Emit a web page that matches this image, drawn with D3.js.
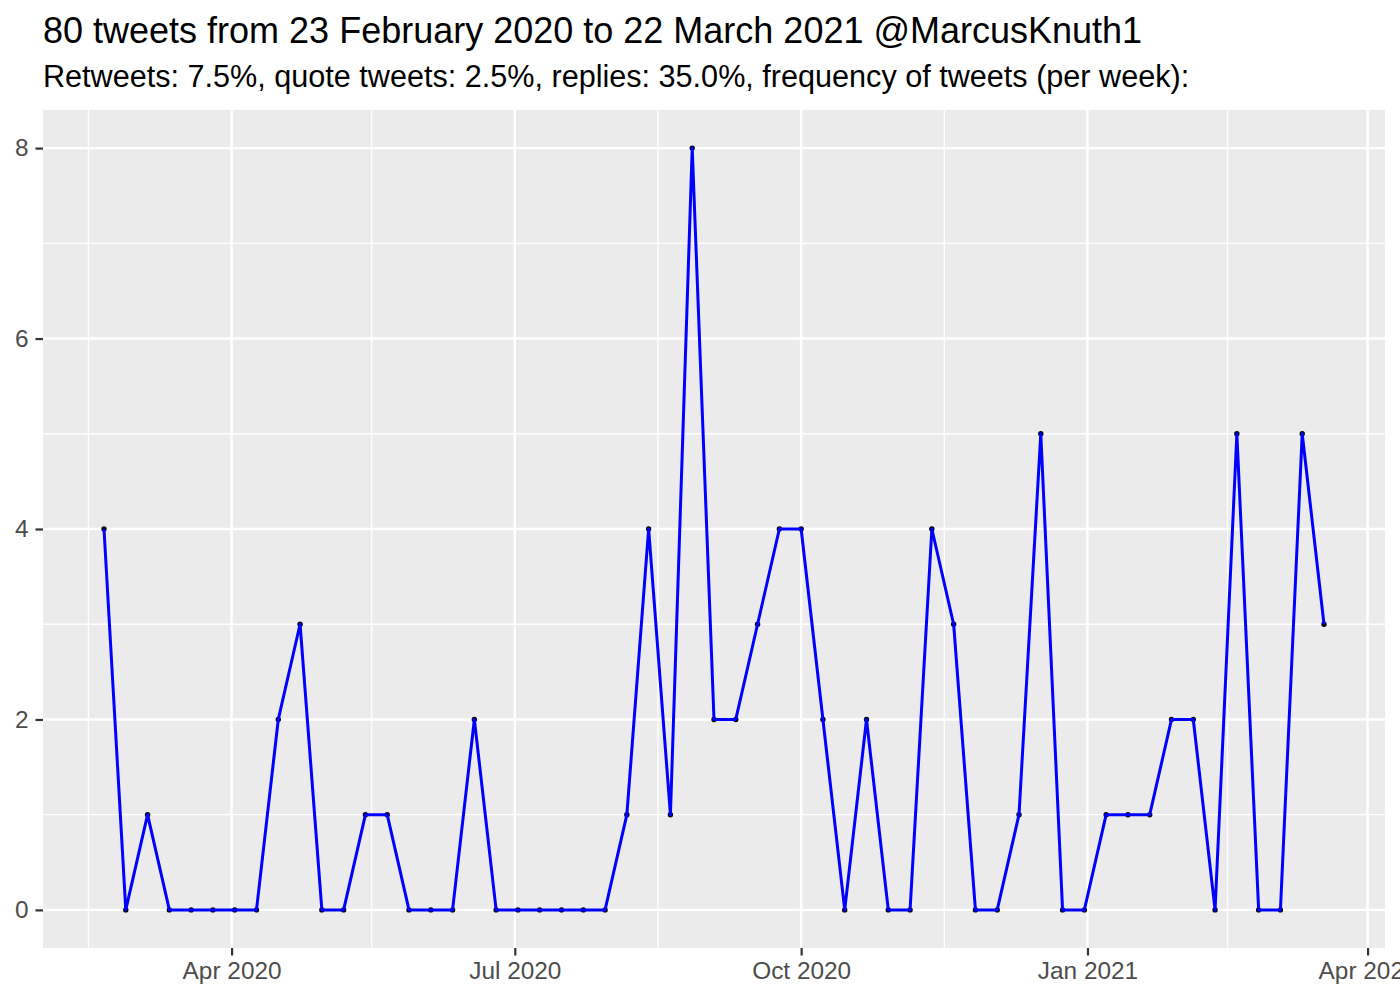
<!DOCTYPE html>
<html>
<head>
<meta charset="utf-8">
<script src="https://cdn.jsdelivr.net/npm/d3@7"></script>
<style>
  body { margin: 0; background: #fff; }
  text { font-family: "Liberation Sans", Arial, sans-serif; }
</style>
</head>
<body>
<svg id="chart"></svg>
<script>
const width = 1400
const height = 1000

// weekly counts, weeks starting Thursday 20 Feb 2020
const firstWeek = "2020-02-20"
const tweetsPerWeek = [4, 0, 1, 0, 0, 0, 0, 0, 2, 3, 0, 0, 1, 1, 0, 0, 0, 2, 0, 0,
                       0, 0, 0, 0, 1, 4, 1, 8, 2, 2, 3, 4, 4, 2, 0, 2, 0, 0, 4, 3,
                       0, 0, 1, 5, 0, 0, 1, 1, 1, 2, 2, 0, 5, 0, 0, 5, 3]
const yTicks = [0, 2, 4, 6, 8]
const yMinor = [1, 3, 5, 7]
const xTicks = ["2020-04-01", "2020-07-01", "2020-10-01", "2021-01-01", "2021-04-01"]
const xTickLabels = ["Apr 2020", "Jul 2020", "Oct 2020", "Jan 2021", "Apr 2021"]
const xMinor = ["2020-02-15", "2020-05-16", "2020-08-16", "2020-11-16", "2021-02-15"]

const titleText = "80 tweets from 23 February 2020 to 22 March 2021 @MarcusKnuth1"
const subtitleText = "Retweets: 7.5%, quote tweets: 2.5%, replies: 35.0%, frequency of tweets (per week):"

const parse = d3.utcParse("%Y-%m-%d")
const start = parse(firstWeek)
const data = tweetsPerWeek.map((v, i) => ({ date: d3.utcDay.offset(start, i * 7), n: v }))

const margin = { top: 110, right: 15, bottom: 52, left: 43 }

const svg = d3.select("#chart")
            .attr("width", width)
            .attr("height", height)

// ggplot style 5% expansion
const xExt = d3.extent(data, d => d.date)
const xPad = (xExt[1] - xExt[0]) * 0.05
const x = d3.scaleUtc()
            .domain([new Date(+xExt[0] - xPad), new Date(+xExt[1] + xPad)])
            .range([margin.left, width - margin.right])

const y = d3.scaleLinear()
            .domain([-0.4, 8.4])
            .range([height - margin.bottom, margin.top])

svg.append("text")
   .attr("x", 43).attr("y", 43)
   .attr("font-size", 36).attr("fill", "#000")
   .text(titleText)

svg.append("text")
   .attr("x", 43).attr("y", 87)
   .attr("font-size", 30.6).attr("fill", "#000")
   .text(subtitleText)

// panel
svg.append("rect")
   .attr("x", margin.left).attr("y", margin.top)
   .attr("width", width - margin.left - margin.right)
   .attr("height", height - margin.top - margin.bottom)
   .attr("fill", "#ebebeb")

const grid = svg.append("g")

grid.selectAll(".ymin").data(yMinor).enter().append("line")
    .attr("x1", margin.left).attr("x2", width - margin.right)
    .attr("y1", d => y(d)).attr("y2", d => y(d))
    .attr("stroke", "#fff").attr("stroke-width", 1.3)

grid.selectAll(".xmin").data(xMinor).enter().append("line")
    .attr("x1", d => x(parse(d))).attr("x2", d => x(parse(d)))
    .attr("y1", margin.top).attr("y2", height - margin.bottom)
    .attr("stroke", "#fff").attr("stroke-width", 1.3)

grid.selectAll(".ymaj").data(yTicks).enter().append("line")
    .attr("x1", margin.left).attr("x2", width - margin.right)
    .attr("y1", d => y(d)).attr("y2", d => y(d))
    .attr("stroke", "#fff").attr("stroke-width", 2.4)

grid.selectAll(".xmaj").data(xTicks).enter().append("line")
    .attr("x1", d => x(parse(d))).attr("x2", d => x(parse(d)))
    .attr("y1", margin.top).attr("y2", height - margin.bottom)
    .attr("stroke", "#fff").attr("stroke-width", 2.4)

// axes
const xAxis = svg.append("g")
    .attr("transform", `translate(0,${height - margin.bottom})`)
    .call(d3.axisBottom(x)
            .tickValues(xTicks.map(parse))
            .tickFormat((d, i) => xTickLabels[i])
            .tickSize(7.5).tickPadding(6))
xAxis.select(".domain").remove()
xAxis.selectAll("line").attr("stroke", "#333").attr("stroke-width", 2.2)
xAxis.selectAll("text").attr("font-size", 24.4).attr("fill", "#4d4d4d")
     .attr("font-family", "Liberation Sans, Arial, sans-serif")

const yAxis = svg.append("g")
    .attr("transform", `translate(${margin.left},0)`)
    .call(d3.axisLeft(y).tickValues(yTicks).tickSize(7.5).tickPadding(7))
yAxis.select(".domain").remove()
yAxis.selectAll("line").attr("stroke", "#333").attr("stroke-width", 2.2)
yAxis.selectAll("text").attr("font-size", 24.4).attr("fill", "#4d4d4d")
     .attr("font-family", "Liberation Sans, Arial, sans-serif")

// points then line on top
svg.selectAll(".pt").data(data).enter().append("circle")
   .attr("cx", d => x(d.date)).attr("cy", d => y(d.n))
   .attr("r", 2.7).attr("fill", "#000")

const line = d3.line().x(d => x(d.date)).y(d => y(d.n))

svg.append("path")
   .datum(data)
   .attr("d", line)
   .attr("fill", "none")
   .attr("stroke", "#0000ff")
   .attr("stroke-width", 3)
   .attr("stroke-linejoin", "round")
</script>
</body>
</html>
